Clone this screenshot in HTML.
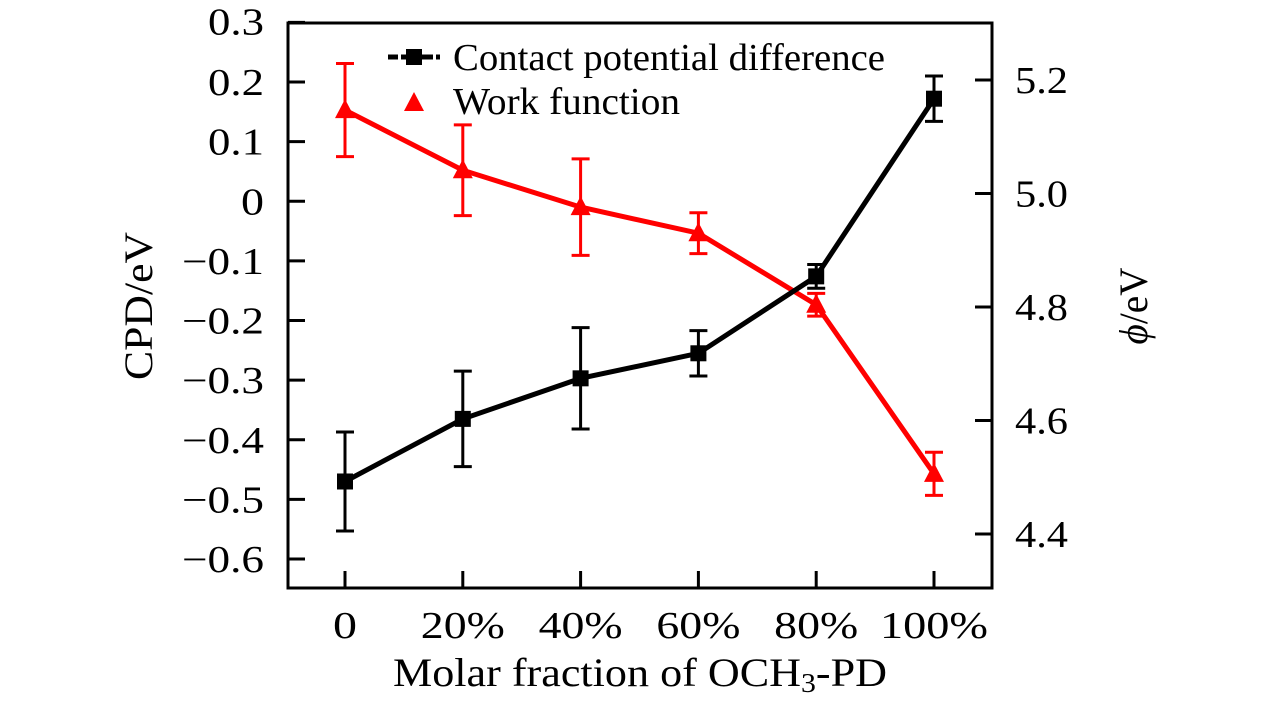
<!DOCTYPE html>
<html><head><meta charset="utf-8"><style>
body{margin:0;background:#fff;width:1283px;height:709px;overflow:hidden}
text{font-family:"Liberation Serif",serif;fill:#000}
</style></head><body>
<svg id="chart" width="1283" height="709" xmlns="http://www.w3.org/2000/svg"></svg>
<script>
const categories=["0","20%","40%","60%","80%","100%"];
const xVals=[0,20,40,60,80,100];
const cpdValues=[-0.47,-0.365,-0.297,-0.255,-0.126,0.172];
const cpdErrors=[0.083,0.08,0.085,0.038,0.02,0.038];
const wfValues=[5.147,5.041,4.976,4.93,4.804,4.506];
const wfErrors=[0.082,0.08,0.085,0.036,0.02,0.038];
const leftTicks=[0.3,0.2,0.1,0,-0.1,-0.2,-0.3,-0.4,-0.5,-0.6];
const leftTickLabels=["0.3","0.2","0.1","0","\u22120.1","\u22120.2","\u22120.3","\u22120.4","\u22120.5","\u22120.6"];
const rightTicks=[5.2,5.0,4.8,4.6,4.4];
const rightTickLabels=["5.2","5.0","4.8","4.6","4.4"];

const L=288,R=992,T=23,B=588;
const x=v=>345+v*(934-345)/100;
const yL=v=>82+(0.2-v)*596.25;
const yR=v=>80+(5.2-v)*567.5;
const svg=document.getElementById('chart');
const NS='http://www.w3.org/2000/svg';
function mk(tag,attrs,parent){const e=document.createElementNS(NS,tag);for(const k in attrs)e.setAttribute(k,attrs[k]);(parent||svg).appendChild(e);return e;}
const chw=s=>{let w=0;for(const c of s){w+= c==='.'?10: c==='%'?36: c==='\u2212'?26:23;}return w;};
const cxw=s=>{let w=0;for(const c of s){w+= c==='%'?36:24;}return w;};

const frame=mk('rect',{x:L,y:T,width:R-L,height:B-T,fill:'none',stroke:'#000','stroke-width':3});



leftTicks.forEach((v,i)=>{
  const y=yL(v);
  const t=mk('line',{x1:L,x2:L+17,y1:y,y2:y,stroke:'#000','stroke-width':3});
  
  
  const lb=mk('text',{x:264,y:(i===0?y+12:y+13),'text-anchor':'end','font-size':38,textLength:chw(leftTickLabels[i]),lengthAdjust:'spacingAndGlyphs'});
  lb.textContent=leftTickLabels[i];
  
  
});
rightTicks.forEach((v,i)=>{
  const y=yR(v);
  const t=mk('line',{x1:R-17,x2:R,y1:y,y2:y,stroke:'#000','stroke-width':3});
  
  
  const lb=mk('text',{x:1015,y:y+13,'font-size':38,textLength:53,lengthAdjust:'spacingAndGlyphs'});
  lb.textContent=rightTickLabels[i];
  
  
});
xVals.forEach((v,i)=>{
  const xx=x(v);
  const t=mk('line',{x1:xx,x2:xx,y1:B-17,y2:B,stroke:'#000','stroke-width':3});
  
  
  const lb=mk('text',{x:xx,y:638,'text-anchor':'middle','font-size':38,textLength:cxw(categories[i]),lengthAdjust:'spacingAndGlyphs'});
  lb.textContent=categories[i];
  
  
});

function series(vals,errs,yf,color,name,marker){
  const pts=vals.map((v,i)=>x(xVals[i])+','+yf(v)).join(' ');
  const pl=mk('polyline',{points:pts,fill:'none',stroke:color,'stroke-width':5});
  
  
  vals.forEach((v,i)=>{
    const xx=x(xVals[i]),y1=yf(v+errs[i]),y2=yf(v-errs[i]);
    const g=mk('path',{d:`M${xx},${y1}V${y2}M${xx-9},${y1}H${xx+9}M${xx-9},${y2}H${xx+9}`,stroke:color,'stroke-width':3,fill:'none'});
    
    
    const yy=yf(v);let m;
    if(marker==='sq') m=mk('rect',{x:xx-8,y:yy-8,width:16,height:16,fill:color});
    else m=mk('polygon',{points:`${xx},${yy-11} ${xx-10},${yy+8} ${xx+10},${yy+8}`,fill:color});
    
    
  });
}
series(wfValues,wfErrors,yR,'#ff0000','work-function','tri');
series(cpdValues,cpdErrors,yL,'#000','cpd','sq');

const lg=mk('g',{});


mk('line',{x1:388,x2:440,y1:57,y2:57,stroke:'#000','stroke-width':5,'stroke-dasharray':'10,3,32,3,10'},lg);
mk('rect',{x:406,y:49,width:16,height:16,fill:'#000'},lg);
const t1=mk('text',{x:453,y:70,'font-size':38,textLength:432,lengthAdjust:'spacingAndGlyphs'},lg);t1.textContent='Contact potential difference';


mk('polygon',{points:'414,92 404,111 424,111',fill:'#ff0000'},lg);
const t2=mk('text',{x:453,y:114,'font-size':38,textLength:227,lengthAdjust:'spacingAndGlyphs'},lg);t2.textContent='Work function';



const xt=mk('text',{x:393,y:686,'font-size':40,textLength:494,lengthAdjust:'spacingAndGlyphs'});
xt.innerHTML='Molar fraction of OCH<tspan font-size="27" dy="6">3</tspan><tspan dy="-6">-PD</tspan>';


const yt=mk('text',{x:152,y:306,'text-anchor':'middle','font-size':40,transform:'rotate(-90 152 306)',textLength:148,lengthAdjust:'spacingAndGlyphs'});
yt.textContent='CPD/eV';


const yt2=mk('text',{x:1147,y:306,'text-anchor':'middle','font-size':40,transform:'rotate(-90 1147 306)',textLength:77,lengthAdjust:'spacingAndGlyphs'});
yt2.innerHTML='<tspan font-style="italic">\u03d5</tspan>/eV';


</script>
</body></html>
